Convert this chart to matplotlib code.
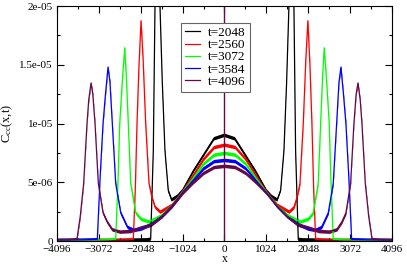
import numpy as np
import matplotlib
matplotlib.use("Agg")
import matplotlib.pyplot as plt
from matplotlib.ticker import MultipleLocator

plt.rcParams['font.family'] = ['Liberation Serif', 'DejaVu Serif']
plt.rcParams['mathtext.default'] = 'regular'

# half profiles (x >= 0), values in units of 1e-6, mirrored to x < 0
x_2048 = [0, 256, 512, 768, 1024, 1152, 1291, 1374, 1455, 1520, 1577, 1640, 1699, 1740, 1805, 1900, 2200, 2600, 3000, 3500, 4096]
c_2048 = [9.0, 8.7, 7.3, 5.9, 4.3, 3.8, 3.5, 4.3, 7.7, 13.5, 20.0, 24.5, 20.0, 7.7, 0.15, 0.1, 0.08, 0.05, 0.05, 0.05, 0.05]

x_2560 = [0, 256, 512, 768, 1024, 1280, 1577, 1700, 1780, 1846, 1927, 1990, 2040, 2090, 2139, 2180, 2230, 2400, 2800, 3400, 4096]
c_2560 = [8.2, 8.0, 7.0, 5.6, 4.25, 3.1, 2.5, 2.9, 3.8, 4.9, 10.0, 15.5, 18.75, 15.0, 10.0, 4.5, 0.15, 0.1, 0.08, 0.06, 0.05]

x_3072 = [0, 256, 512, 768, 1024, 1280, 1536, 1850, 2049, 2171, 2293, 2352, 2400, 2440, 2500, 2562, 2600, 2660, 2900, 3500, 4096]
c_3072 = [7.5, 7.35, 6.6, 5.35, 4.2, 3.05, 2.2, 1.65, 1.9, 2.4, 4.9, 10.0, 14.0, 16.45, 13.5, 10.0, 5.5, 0.15, 0.1, 0.08, 0.06]

x_3584 = [0, 256, 512, 768, 1024, 1280, 1536, 1792, 2048, 2220, 2376, 2538, 2660, 2743, 2800, 2848, 2910, 2970, 3040, 3110, 3500, 4096]
c_3584 = [6.9, 6.8, 6.2, 5.15, 4.15, 3.0, 2.1, 1.45, 1.05, 0.95, 1.2, 2.4, 4.9, 10.0, 13.5, 14.8, 12.5, 10.0, 5.5, 0.15, 0.1, 0.08]

x_4096 = [0, 256, 512, 768, 1024, 1280, 1536, 1792, 2048, 2304, 2560, 2750, 2873, 2970, 3085, 3166, 3220, 3264, 3320, 3362, 3444, 3527, 3609, 3800, 4096]
c_4096 = [6.4, 6.3, 5.8, 5.0, 4.1, 3.0, 2.1, 1.4, 1.15, 0.85, 0.8, 1.0, 1.65, 2.4, 4.9, 10.0, 12.5, 13.45, 12.0, 10.0, 4.9, 2.1, 0.15, 0.1, 0.08]

labels = ['t=2048', 't=2560', 't=3072', 't=3584', 't=4096']
colors = ['black', 'red', '#00ff00', 'blue', '#670748']
origin_x = 0
noise = 0.15e-6  # half-width of the noisy band

curves = [(x_2048, c_2048), (x_2560, c_2560), (x_3072, c_3072),
          (x_3584, c_3584), (x_4096, c_4096)]

fig = plt.figure(figsize=(4.07, 2.64), dpi=100)
ax = fig.add_axes([0.140, 0.087, 0.823, 0.890])

for (xs, cs), lab, col in zip(curves, labels, colors):
    xs = np.array(xs, dtype=float)
    cs = np.array(cs) * 1e-6
    xx = np.concatenate([-xs[::-1], xs[1:]])
    yy = np.concatenate([cs[::-1], cs[1:]])
    ax.fill_between(xx, yy - noise, yy + noise, color=col, lw=0)
    ax.plot(xx, yy, color=col, lw=0.9, label=lab)

ax.axvline(origin_x, color=colors[-1], lw=1.0)

ax.set_xlim(-4096, 4096)
ax.set_ylim(0, 2e-5)
ax.set_xticks([-4096, -3072, -2048, -1024, 0, 1024, 2048, 3072, 4096])
ax.xaxis.set_minor_locator(MultipleLocator(512))
ax.set_yticks([0, 5e-6, 1e-5, 1.5e-5, 2e-5])
ax.set_yticklabels(['0', '5e-06', '1e-05', '1.5e-05', '2e-05'])
ax.yaxis.set_minor_locator(MultipleLocator(2.5e-6))
ax.tick_params(which='both', direction='in', top=True, right=True, labelsize=8)
ax.tick_params(axis='x', pad=3)
ax.tick_params(axis='y', pad=3)
ax.tick_params(which='major', length=5, width=0.8)
ax.tick_params(which='minor', length=2.5, width=0.8)

ax.set_xlabel('x', fontsize=8.5, labelpad=-1)
ax.set_ylabel('C$_{cc}$(x,t)', fontsize=9, labelpad=3)

leg = ax.legend(loc='upper left', bbox_to_anchor=(0.369, 0.929), borderaxespad=0,
                fontsize=9.5, handlelength=1.2, handletextpad=0.6, labelspacing=0.0,
                borderpad=0.3, fancybox=False, framealpha=1)
leg.get_frame().set_edgecolor('0.4')
leg.get_frame().set_linewidth(0.8)

fig.savefig('out.png', dpi=100)
